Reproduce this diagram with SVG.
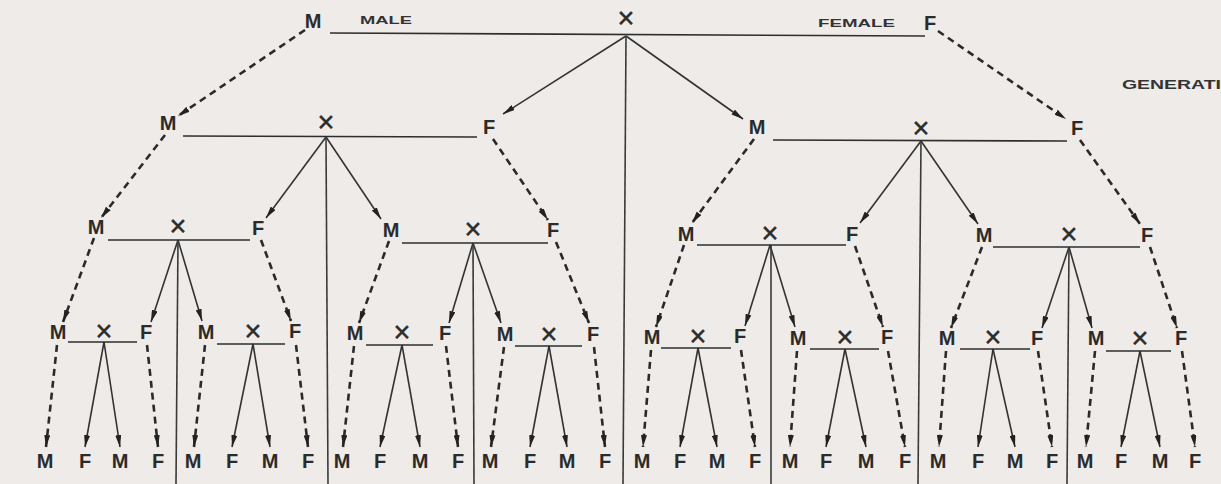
<svg xmlns="http://www.w3.org/2000/svg" width="1221" height="484" viewBox="0 0 1221 484">
<defs>
<style>
.l{font-family:"Liberation Sans",Arial,sans-serif;font-size:20px;font-weight:bold;fill:#2b2b2b;text-anchor:middle}
.x{font-family:"Liberation Sans",Arial,sans-serif;font-size:29px;fill:#2b2b2b;stroke:#2b2b2b;stroke-width:0.5;text-anchor:middle}
.s{font-family:"Liberation Sans",Arial,sans-serif;font-size:11px;font-weight:bold;fill:#333}
.g{font-family:"Liberation Sans",Arial,sans-serif;font-size:13px;font-weight:bold;fill:#333}
.bar{stroke:#2e2e2e;stroke-width:1.6;fill:none}
.v{stroke:#3a3a3a;stroke-width:1.6;fill:none}
.sol{stroke:#333;stroke-width:1.6;fill:none;marker-end:url(#ah)}
.d{stroke:#2a2a2a;stroke-width:2.6;stroke-dasharray:7 5;fill:none;marker-end:url(#ah)}
</style>
<marker id="ah" viewBox="0 0 12 6" refX="12" refY="3" markerWidth="12" markerHeight="6" orient="auto" markerUnits="userSpaceOnUse"><path d="M0,0 L12,3 L0,6 z" fill="#222"/></marker>
</defs>
<rect width="1221" height="484" fill="#efebe9"/>

<g id="connectors">
<!-- level 0 -->
<line class="d" x1="305" y1="30" x2="178" y2="116"/>
<line class="sol" x1="626" y1="36" x2="503" y2="114"/>
<line class="sol" x1="626" y1="36" x2="743" y2="119"/>
<line class="d" x1="938" y1="31" x2="1066" y2="119"/>
<line class="v" x1="626" y1="36" x2="623" y2="484"/>
<!-- level 1 left -->
<line class="d" x1="165" y1="135" x2="101" y2="218"/>
<line class="sol" x1="326" y1="137" x2="266" y2="218"/>
<line class="sol" x1="326" y1="137" x2="381" y2="219"/>
<line class="d" x1="493" y1="139" x2="548" y2="220"/>
<line class="v" x1="326" y1="137" x2="328" y2="484"/>
<!-- level 1 right -->
<line class="d" x1="754" y1="139" x2="692" y2="223"/>
<line class="sol" x1="921" y1="141" x2="860" y2="223"/>
<line class="sol" x1="921" y1="141" x2="978" y2="224"/>
<line class="d" x1="1080" y1="140" x2="1140" y2="224"/>
<line class="v" x1="921" y1="141" x2="918" y2="484"/>
<!-- level 2 -->
<line class="d" x1="94" y1="238" x2="63" y2="322"/>
<line class="sol" x1="178" y1="240" x2="151" y2="322"/>
<line class="sol" x1="178" y1="240" x2="202" y2="321"/>
<line class="d" x1="261" y1="240" x2="291" y2="321"/>
<line class="v" x1="178" y1="240" x2="176" y2="484"/>

<line class="d" x1="389" y1="241" x2="359" y2="323"/>
<line class="sol" x1="473" y1="243" x2="449" y2="323"/>
<line class="sol" x1="473" y1="243" x2="501" y2="323"/>
<line class="d" x1="556" y1="242" x2="589" y2="323"/>
<line class="v" x1="473" y1="243" x2="474" y2="484"/>

<line class="d" x1="684" y1="245" x2="656" y2="327"/>
<line class="sol" x1="770" y1="245" x2="745" y2="326"/>
<line class="sol" x1="770" y1="245" x2="795" y2="327"/>
<line class="d" x1="855" y1="246" x2="883" y2="327"/>
<line class="v" x1="771" y1="245" x2="771" y2="484"/>

<line class="d" x1="982" y1="247" x2="951" y2="328"/>
<line class="sol" x1="1069" y1="247" x2="1042" y2="328"/>
<line class="sol" x1="1069" y1="247" x2="1092" y2="328"/>
<line class="d" x1="1150" y1="247" x2="1177" y2="328"/>
<line class="v" x1="1069" y1="247" x2="1067" y2="484"/>
<!-- level 3 -->
<line class="d" x1="57" y1="345" x2="46" y2="447"/>
<line class="sol" x1="104" y1="342" x2="85" y2="447"/>
<line class="sol" x1="104" y1="342" x2="120" y2="447"/>
<line class="d" x1="147" y1="345" x2="158" y2="447"/>

<line class="d" x1="205" y1="345" x2="194" y2="447"/>
<line class="sol" x1="253" y1="344" x2="232" y2="447"/>
<line class="sol" x1="253" y1="344" x2="270" y2="447"/>
<line class="d" x1="296" y1="345" x2="308" y2="447"/>

<line class="d" x1="354" y1="346" x2="343" y2="447"/>
<line class="sol" x1="402" y1="345" x2="380" y2="447"/>
<line class="sol" x1="402" y1="345" x2="420" y2="447"/>
<line class="d" x1="446" y1="346" x2="458" y2="447"/>

<line class="d" x1="504" y1="347" x2="491" y2="447"/>
<line class="sol" x1="549" y1="346" x2="530" y2="447"/>
<line class="sol" x1="549" y1="346" x2="567" y2="447"/>
<line class="d" x1="594" y1="347" x2="605" y2="447"/>

<line class="d" x1="651" y1="350" x2="643" y2="447"/>
<line class="sol" x1="698" y1="348" x2="680" y2="447"/>
<line class="sol" x1="698" y1="348" x2="717" y2="447"/>
<line class="d" x1="741" y1="350" x2="755" y2="447"/>

<line class="d" x1="797" y1="351" x2="790" y2="447"/>
<line class="sol" x1="845" y1="349" x2="826" y2="447"/>
<line class="sol" x1="845" y1="349" x2="866" y2="447"/>
<line class="d" x1="888" y1="351" x2="905" y2="447"/>

<line class="d" x1="946" y1="351" x2="939" y2="447"/>
<line class="sol" x1="993" y1="349" x2="978" y2="447"/>
<line class="sol" x1="993" y1="349" x2="1015" y2="447"/>
<line class="d" x1="1038" y1="351" x2="1052" y2="447"/>

<line class="d" x1="1095" y1="351" x2="1086" y2="447"/>
<line class="sol" x1="1140" y1="351" x2="1121" y2="447"/>
<line class="sol" x1="1140" y1="351" x2="1160" y2="447"/>
<line class="d" x1="1182" y1="351" x2="1195" y2="447"/>
</g>

<g id="labels">
<text class="s" x="360" y="24" textLength="52" lengthAdjust="spacingAndGlyphs">MALE</text>
<text class="s" x="818" y="27" textLength="77" lengthAdjust="spacingAndGlyphs">FEMALE</text>
<text class="g" x="1122" y="89" textLength="99" lengthAdjust="spacingAndGlyphs">GENERATI</text>
</g>

<!-- level 0 -->
<g id="n0-M"><text class="l" x="313" y="28">M</text></g>
<g id="n0-X"><text class="x" x="626" y="28">×</text><line class="bar" x1="330" y1="33" x2="925" y2="36"/></g>
<g id="n0-F"><text class="l" x="930" y="30">F</text></g>

<!-- level 1 -->
<g id="n1a-M"><text class="l" x="168" y="130">M</text></g>
<g id="n1a-X"><text class="x" x="326" y="132">×</text><line class="bar" x1="183" y1="136" x2="477" y2="137"/></g>
<g id="n1a-F"><text class="l" x="489" y="134">F</text></g>
<g id="n1b-M"><text class="l" x="757" y="134">M</text></g>
<g id="n1b-X"><text class="x" x="921" y="138">×</text><line class="bar" x1="773" y1="140" x2="1067" y2="141"/></g>
<g id="n1b-F"><text class="l" x="1077" y="135">F</text></g>

<!-- level 2 -->
<g id="n2a-M"><text class="l" x="96" y="234">M</text></g>
<g id="n2a-X"><text class="x" x="178" y="236">×</text><line class="bar" x1="108" y1="240" x2="250" y2="240"/></g>
<g id="n2a-F"><text class="l" x="258" y="235">F</text></g>
<g id="n2b-M"><text class="l" x="391" y="237">M</text></g>
<g id="n2b-X"><text class="x" x="473" y="239">×</text><line class="bar" x1="402" y1="243" x2="548" y2="243"/></g>
<g id="n2b-F"><text class="l" x="553" y="237">F</text></g>
<g id="n2c-M"><text class="l" x="686" y="241">M</text></g>
<g id="n2c-X"><text class="x" x="770" y="243">×</text><line class="bar" x1="697" y1="245" x2="846" y2="245"/></g>
<g id="n2c-F"><text class="l" x="852" y="241">F</text></g>
<g id="n2d-M"><text class="l" x="984" y="242">M</text></g>
<g id="n2d-X"><text class="x" x="1069" y="244">×</text><line class="bar" x1="993" y1="247" x2="1140" y2="247"/></g>
<g id="n2d-F"><text class="l" x="1147" y="242">F</text></g>

<!-- level 3 -->
<g id="n3a-M"><text class="l" x="58" y="339">M</text></g>
<g id="n3a-X"><text class="x" x="104" y="341">×</text><line class="bar" x1="68" y1="342" x2="137" y2="342"/></g>
<g id="n3a-F"><text class="l" x="146" y="339">F</text></g>
<g id="n3b-M"><text class="l" x="206" y="339">M</text></g>
<g id="n3b-X"><text class="x" x="253" y="341">×</text><line class="bar" x1="217" y1="344" x2="285" y2="344"/></g>
<g id="n3b-F"><text class="l" x="295" y="338">F</text></g>
<g id="n3c-M"><text class="l" x="355" y="340">M</text></g>
<g id="n3c-X"><text class="x" x="402" y="342">×</text><line class="bar" x1="366" y1="345" x2="433" y2="345"/></g>
<g id="n3c-F"><text class="l" x="445" y="340">F</text></g>
<g id="n3d-M"><text class="l" x="505" y="341">M</text></g>
<g id="n3d-X"><text class="x" x="549" y="344">×</text><line class="bar" x1="515" y1="346" x2="582" y2="346"/></g>
<g id="n3d-F"><text class="l" x="593" y="341">F</text></g>
<g id="n3e-M"><text class="l" x="652" y="344">M</text></g>
<g id="n3e-X"><text class="x" x="698" y="346">×</text><line class="bar" x1="661" y1="348" x2="731" y2="348"/></g>
<g id="n3e-F"><text class="l" x="740" y="343">F</text></g>
<g id="n3f-M"><text class="l" x="798" y="345">M</text></g>
<g id="n3f-X"><text class="x" x="845" y="347">×</text><line class="bar" x1="810" y1="349" x2="879" y2="349"/></g>
<g id="n3f-F"><text class="l" x="887" y="344">F</text></g>
<g id="n3g-M"><text class="l" x="947" y="345">M</text></g>
<g id="n3g-X"><text class="x" x="993" y="347">×</text><line class="bar" x1="960" y1="349" x2="1030" y2="349"/></g>
<g id="n3g-F"><text class="l" x="1037" y="345">F</text></g>
<g id="n3h-M"><text class="l" x="1096" y="345">M</text></g>
<g id="n3h-X"><text class="x" x="1140" y="348">×</text><line class="bar" x1="1106" y1="351" x2="1171" y2="351"/></g>
<g id="n3h-F"><text class="l" x="1181" y="345">F</text></g>

<!-- level 4 -->
<g id="n4-row">
<text class="l" x="45" y="468">M</text><text class="l" x="85" y="468">F</text><text class="l" x="120" y="468">M</text><text class="l" x="158" y="468">F</text>
<text class="l" x="193" y="468">M</text><text class="l" x="232" y="468">F</text><text class="l" x="270" y="468">M</text><text class="l" x="308" y="468">F</text>
<text class="l" x="342" y="468">M</text><text class="l" x="380" y="468">F</text><text class="l" x="420" y="468">M</text><text class="l" x="458" y="468">F</text>
<text class="l" x="490" y="468">M</text><text class="l" x="530" y="468">F</text><text class="l" x="567" y="468">M</text><text class="l" x="605" y="468">F</text>
<text class="l" x="642" y="468">M</text><text class="l" x="680" y="468">F</text><text class="l" x="717" y="468">M</text><text class="l" x="755" y="468">F</text>
<text class="l" x="790" y="468">M</text><text class="l" x="826" y="468">F</text><text class="l" x="866" y="468">M</text><text class="l" x="905" y="468">F</text>
<text class="l" x="938" y="468">M</text><text class="l" x="978" y="468">F</text><text class="l" x="1015" y="468">M</text><text class="l" x="1052" y="468">F</text>
<text class="l" x="1085" y="468">M</text><text class="l" x="1121" y="468">F</text><text class="l" x="1160" y="468">M</text><text class="l" x="1195" y="468">F</text>
</g>
</svg>
